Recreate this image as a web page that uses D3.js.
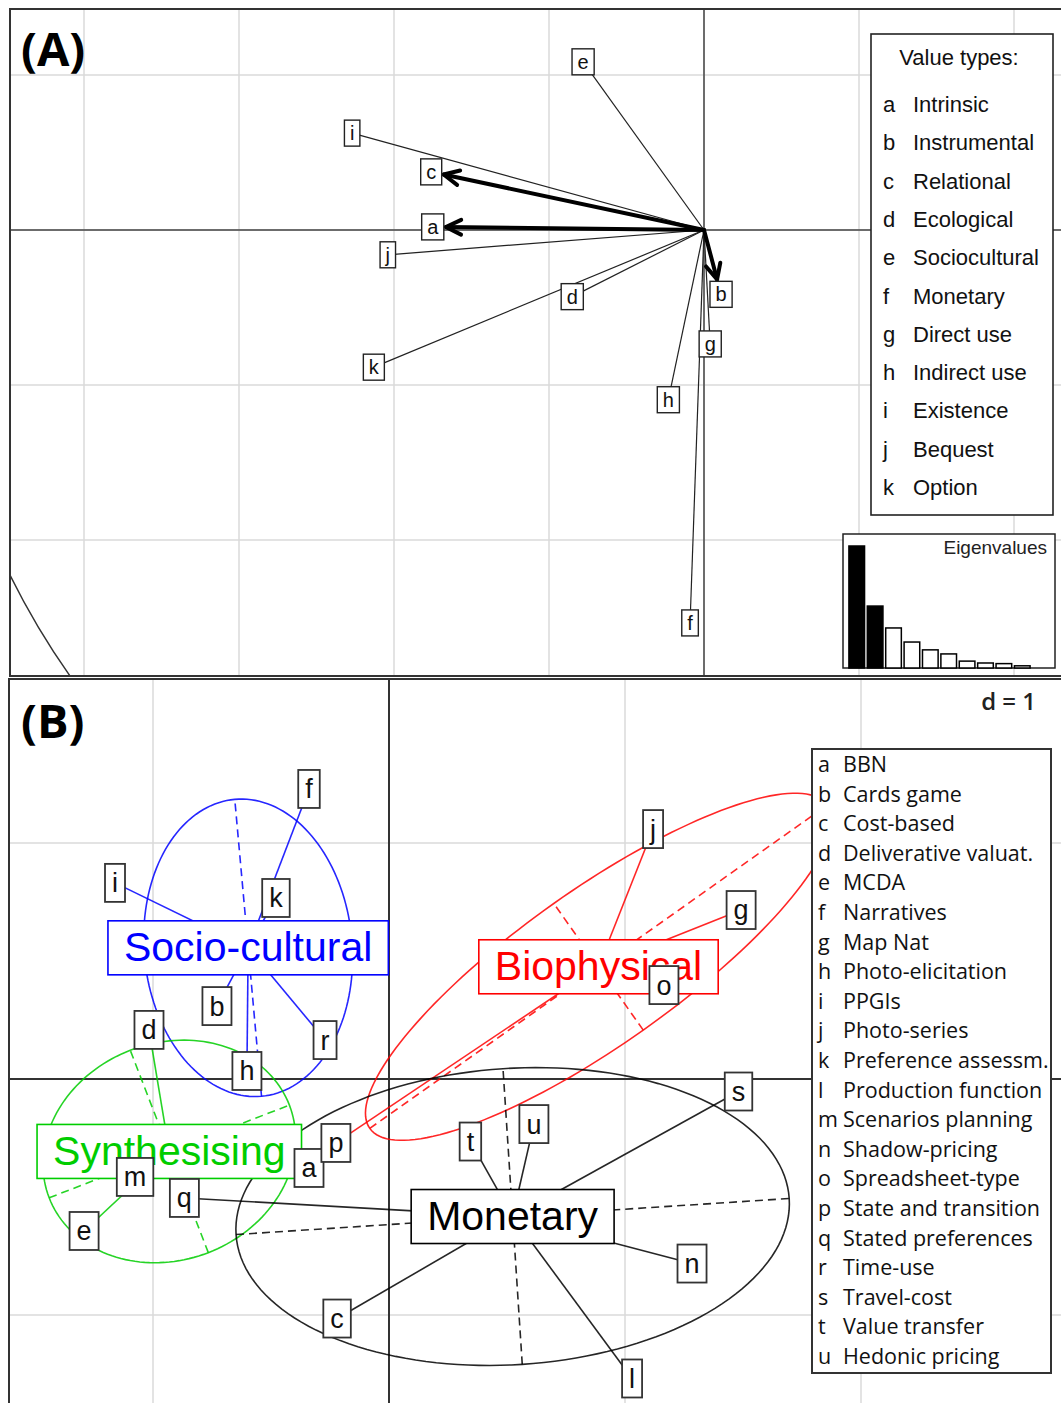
<!DOCTYPE html>
<html><head><meta charset="utf-8">
<script src="https://cdn.jsdelivr.net/npm/d3@7"></script>
<style>body{margin:0;background:#fff}</style>
</head><body>
<svg id="chart" width="1061" height="1403"></svg>
<script>
// ================= DATA =================
// Panel A: value types (correlation-circle coordinates)
const valueLetters = ["a","b","c","d","e","f","g","h","i","j","k"];
const valueNames = ["Intrinsic","Instrumental","Relational","Ecological","Sociocultural","Monetary","Direct use","Indirect use","Existence","Bequest","Option"];
const valueX = [-0.350, 0.022, -0.352, -0.170, -0.156, -0.018, 0.008, -0.046, -0.454, -0.408, -0.426];
const valueY = [0.004, -0.083, 0.075, -0.086, 0.217, -0.507, -0.147, -0.219, 0.125, -0.032, -0.177];
const mainValueTypes = ["a","b","c"];
const eigenvalues = [3.90, 1.98, 1.28, 0.83, 0.58, 0.45, 0.22, 0.16, 0.14, 0.07];
const eigenKept = 2;

// Panel B: valuation methods
const methodLetters = ["a","b","c","d","e","f","g","h","i","j","k","l","m","n","o","p","q","r","s","t","u"];
const methodNames = ["BBN","Cards game","Cost-based","Deliverative valuat.","MCDA","Narratives","Map Nat","Photo-elicitation","PPGIs","Photo-series","Preference assessm.","Production function","Scenarios planning","Shadow-pricing","Spreadsheet-type","State and transition","Stated preferences","Time-use","Travel-cost","Value transfer","Hedonic pricing"];
const methodX = [-0.339, -0.729, -0.220, -1.017, -1.292, -0.339, 1.492, -0.602, -1.161, 1.119, -0.479, 1.030, -1.076, 1.284, 1.165, -0.225, -0.867, -0.271, 1.481, 0.345, 0.614];
const methodY = [-0.377, 0.309, -1.015, 0.208, -0.644, 1.229, 0.716, 0.034, 0.831, 1.059, 0.767, -1.269, -0.415, -0.782, 0.398, -0.271, -0.504, 0.165, -0.053, -0.265, -0.191];
const methodGroup = ["Synthesising","Socio-cultural","Monetary","Synthesising","Synthesising","Socio-cultural","Biophysical","Socio-cultural","Socio-cultural","Biophysical","Socio-cultural","Monetary","Synthesising","Monetary","Biophysical","Biophysical","Monetary","Socio-cultural","Monetary","Monetary","Monetary"];
const groupNames = ["Socio-cultural","Synthesising","Biophysical","Monetary"];
const groupColors = ["#0000ff","#00cd00","#ff0000","#000000"];
const ellipseCoef = 1.5;
const gridStepA = 0.2, gridStepB = 1;

// ================= LAYOUT =================
const W = 1061, H = 1403;
const A = {left:10, top:9, right:1066, bottom:676, ox:704, oy:230, unit:775};
const B = {left:9, top:679, right:1066, bottom:1408, ox:389, oy:1079, unit:236};
const SANS = "'Liberation Sans', Arial, sans-serif";
const LEG = "'Open Sans', 'Noto Sans', sans-serif";

const svg = d3.select("#chart");
svg.append("rect").attr("width", W).attr("height", H).attr("fill", "#fff");
const defs = svg.append("defs");
defs.append("clipPath").attr("id","clipA").append("rect")
  .attr("x",A.left).attr("y",A.top).attr("width",A.right-A.left).attr("height",A.bottom-A.top);
defs.append("clipPath").attr("id","clipB").append("rect")
  .attr("x",B.left).attr("y",B.top).attr("width",B.right-B.left).attr("height",B.bottom-B.top);

function gridValues(scale, lo, hi, step) {
  const out = [];
  const a = Math.min(scale.invert(lo), scale.invert(hi)), b = Math.max(scale.invert(lo), scale.invert(hi));
  for (let v = Math.ceil(a/step)*step; v <= b; v += step) out.push(+v.toFixed(6));
  return out;
}

// ================= PANEL A =================
const xA = d3.scaleLinear().domain([0,1]).range([A.ox, A.ox + A.unit]);
const yA = d3.scaleLinear().domain([0,1]).range([A.oy, A.oy - A.unit]);
const gA = svg.append("g").attr("clip-path","url(#clipA)");

gA.selectAll("line.gx").data(gridValues(xA, A.left, A.right, gridStepA)).join("line")
  .attr("x1",d=>xA(d)).attr("x2",d=>xA(d)).attr("y1",A.top).attr("y2",A.bottom)
  .attr("stroke","#dadada").attr("stroke-width",1.5);
gA.selectAll("line.gy").data(gridValues(yA, A.top, A.bottom, gridStepA)).join("line")
  .attr("y1",d=>yA(d)).attr("y2",d=>yA(d)).attr("x1",A.left).attr("x2",A.right)
  .attr("stroke","#dadada").attr("stroke-width",1.5);
gA.append("line").attr("x1",xA(0)).attr("x2",xA(0)).attr("y1",A.top).attr("y2",A.bottom).attr("stroke","#444").attr("stroke-width",1.5);
gA.append("line").attr("y1",yA(0)).attr("y2",yA(0)).attr("x1",A.left).attr("x2",A.right).attr("stroke","#444").attr("stroke-width",1.5);
gA.append("circle").attr("cx",xA(0)).attr("cy",yA(0)).attr("r",xA(1)-xA(0))
  .attr("fill","none").attr("stroke","#333").attr("stroke-width",1.4);

const valueData = valueLetters.map((l,i)=>({letter:l, name:valueNames[i], x:valueX[i], y:valueY[i]}));
const layLinesA = gA.append("g");
const layLabelsA = gA.append("g");
const fsA = 20;
valueData.forEach(d => {
  const cx = xA(d.x), cy = yA(d.y);
  const g = layLabelsA.append("g");
  const r = g.append("rect");
  const t = g.append("text").attr("x",cx).attr("y",cy + 0.35*fsA).attr("text-anchor","middle")
    .attr("font-family",SANS).attr("font-size",fsA).attr("fill","#111").text(d.letter);
  const w = t.node().getComputedTextLength() + 11, h = 26;
  r.attr("x",cx-w/2).attr("y",cy-h/2).attr("width",w).attr("height",h)
    .attr("fill","#fff").attr("stroke","#222").attr("stroke-width",1.4);
  d.cx = cx; d.cy = cy; d.hw = w/2; d.hh = h/2;
});
valueData.forEach(d => {
  layLinesA.append("line").attr("x1",xA(0)).attr("y1",yA(0)).attr("x2",d.cx).attr("y2",d.cy)
    .attr("stroke","#222").attr("stroke-width",1.2);
});
valueData.filter(d => mainValueTypes.includes(d.letter)).forEach(d => {
  const ox = xA(0), oy = yA(0);
  const vx = ox - d.cx, vy = oy - d.cy, len = Math.hypot(vx, vy);
  const t = Math.min(vx ? d.hw/Math.abs(vx) : Infinity, vy ? d.hh/Math.abs(vy) : Infinity) + 2/len;
  const tx = d.cx + vx*t, ty = d.cy + vy*t;
  layLinesA.append("line").attr("x1",ox).attr("y1",oy).attr("x2",tx).attr("y2",ty)
    .attr("stroke","#000").attr("stroke-width",4).attr("stroke-linecap","round");
  const ang = Math.atan2(vy, vx), L = 17, sp = 0.45;
  const p1 = [tx + L*Math.cos(ang+sp), ty + L*Math.sin(ang+sp)];
  const p2 = [tx + L*Math.cos(ang-sp), ty + L*Math.sin(ang-sp)];
  layLinesA.append("path").attr("d",`M${p1[0]},${p1[1]}L${tx},${ty}L${p2[0]},${p2[1]}`)
    .attr("fill","none").attr("stroke","#000").attr("stroke-width",4)
    .attr("stroke-linecap","round").attr("stroke-linejoin","round");
});

// Legend A
const legA = svg.append("g");
legA.append("rect").attr("x",871).attr("y",34).attr("width",182).attr("height",481)
  .attr("fill","#fff").attr("stroke","#222").attr("stroke-width",1.6);
legA.append("text").attr("x",959).attr("y",65).attr("text-anchor","middle")
  .attr("font-family",SANS).attr("font-size",22).attr("fill","#111").text("Value types:");
valueData.forEach((d,i) => {
  const y = 112 + i*38.3;
  legA.append("text").attr("x",883).attr("y",y).attr("font-family",SANS).attr("font-size",22).attr("fill","#111").text(d.letter);
  legA.append("text").attr("x",913).attr("y",y).attr("font-family",SANS).attr("font-size",22).attr("fill","#111").text(d.name);
});

// Eigenvalues inset
const eig = svg.append("g");
eig.append("rect").attr("x",843).attr("y",534).attr("width",212).attr("height",134)
  .attr("fill","#fff").attr("stroke","#222").attr("stroke-width",1.5);
const xE = d3.scaleBand().domain(d3.range(eigenvalues.length)).range([848, 1031]).paddingInner(0.15).paddingOuter(0.05);
const yE = d3.scaleLinear().domain([0, d3.max(eigenvalues)]).range([668, 546]);
eig.selectAll("rect.bar").data(eigenvalues).join("rect")
  .attr("x",(d,i)=>xE(i)).attr("y",d=>yE(d)).attr("width",xE.bandwidth()).attr("height",d=>yE(0)-yE(d))
  .attr("fill",(d,i)=> i < eigenKept ? "#000" : "#fff").attr("stroke","#000").attr("stroke-width",1.5);
eig.append("text").attr("x",1047).attr("y",554).attr("text-anchor","end")
  .attr("font-family",SANS).attr("font-size",19).attr("fill","#222").text("Eigenvalues");

svg.append("text").attr("x",21).attr("y",66).attr("font-family",LEG).attr("font-weight",700)
  .attr("font-size",47).attr("fill","#000").text("(A)");
svg.append("rect").attr("x",A.left).attr("y",A.top).attr("width",A.right-A.left).attr("height",A.bottom-A.top)
  .attr("fill","none").attr("stroke","#333").attr("stroke-width",2);

// ================= PANEL B =================
const xB = d3.scaleLinear().domain([0,1]).range([B.ox, B.ox + B.unit]);
const yB = d3.scaleLinear().domain([0,1]).range([B.oy, B.oy - B.unit]);
const gB = svg.append("g").attr("clip-path","url(#clipB)");

gB.selectAll("line.gx").data(gridValues(xB, B.left, B.right, gridStepB)).join("line")
  .attr("x1",d=>xB(d)).attr("x2",d=>xB(d)).attr("y1",B.top).attr("y2",B.bottom)
  .attr("stroke","#dadada").attr("stroke-width",1.5);
gB.selectAll("line.gy").data(gridValues(yB, B.top, B.bottom, gridStepB)).join("line")
  .attr("y1",d=>yB(d)).attr("y2",d=>yB(d)).attr("x1",B.left).attr("x2",B.right)
  .attr("stroke","#dadada").attr("stroke-width",1.5);
gB.append("line").attr("x1",xB(0)).attr("x2",xB(0)).attr("y1",B.top).attr("y2",B.bottom).attr("stroke","#333").attr("stroke-width",2);
gB.append("line").attr("y1",yB(0)).attr("y2",yB(0)).attr("x1",B.left).attr("x2",B.right).attr("stroke","#333").attr("stroke-width",2);

const methods = methodLetters.map((l,i)=>({letter:l, name:methodNames[i], x:methodX[i], y:methodY[i], group:methodGroup[i]}));
const groups = groupNames.map((name, gi) => {
  const pts = methods.filter(m => m.group === name);
  const n = pts.length;
  const mx = d3.mean(pts, p=>p.x), my = d3.mean(pts, p=>p.y);
  let sxx=0, syy=0, sxy=0;
  pts.forEach(p => { const dx=p.x-mx, dy=p.y-my; sxx+=dx*dx; syy+=dy*dy; sxy+=dx*dy; });
  sxx/=n; syy/=n; sxy/=n;
  const tr=(sxx+syy)/2, df=Math.sqrt(((sxx-syy)/2)**2 + sxy*sxy);
  const l1 = tr+df, l2 = Math.max(tr-df, 0);
  const th = Math.atan2(l1 - sxx, sxy);
  return {name, color:groupColors[gi], pts, mx, my, a:ellipseCoef*Math.sqrt(l1), b:ellipseCoef*Math.sqrt(l2), th};
});

const layEll = gB.append("g");
const lineGen = d3.line().x(p=>xB(p[0])).y(p=>yB(p[1])).curve(d3.curveLinearClosed);
groups.forEach(G => {
  const c = Math.cos(G.th), s = Math.sin(G.th);
  const ring = d3.range(0, 2*Math.PI, 2*Math.PI/160).map(t => [
    G.mx + G.a*Math.cos(t)*c - G.b*Math.sin(t)*s,
    G.my + G.a*Math.cos(t)*s + G.b*Math.sin(t)*c ]);
  layEll.append("path").attr("d", lineGen(ring)).attr("fill","none").attr("stroke",G.color).attr("stroke-width",1.6).attr("stroke-opacity",0.85);
  [[G.a*c, G.a*s],[-G.b*s, G.b*c]].forEach(v => {
    layEll.append("line").attr("x1",xB(G.mx - v[0])).attr("y1",yB(G.my - v[1]))
      .attr("x2",xB(G.mx + v[0])).attr("y2",yB(G.my + v[1]))
      .attr("stroke",G.color).attr("stroke-width",1.6).attr("stroke-opacity",0.85).attr("stroke-dasharray","8,5");
  });
  G.pts.forEach(p => {
    layEll.append("line").attr("x1",xB(G.mx)).attr("y1",yB(G.my)).attr("x2",xB(p.x)).attr("y2",yB(p.y))
      .attr("stroke",G.color).attr("stroke-width",1.6).attr("stroke-opacity",0.85);
  });
});

// class labels
const fsC = 41;
groups.forEach(G => {
  const cx = xB(G.mx), cy = yB(G.my);
  const g = gB.append("g");
  const r = g.append("rect");
  const t = g.append("text").attr("x",cx).attr("y",cy + 0.32*fsC).attr("text-anchor","middle")
    .attr("font-family",SANS).attr("font-size",fsC).attr("fill",G.color).text(G.name);
  const w = t.node().getComputedTextLength() + 32, h = 54;
  r.attr("x",cx-w/2).attr("y",cy-h/2).attr("width",w).attr("height",h)
    .attr("fill","#fff").attr("stroke",G.color).attr("stroke-width",1.6);
});

// point labels
const fsP = 27;
methods.forEach(d => {
  const cx = xB(d.x), cy = yB(d.y);
  const g = gB.append("g");
  const r = g.append("rect");
  const t = g.append("text").attr("x",cx).attr("y",cy + 0.35*fsP).attr("text-anchor","middle")
    .attr("font-family",SANS).attr("font-size",fsP).attr("fill","#111").text(d.letter);
  const w = t.node().getComputedTextLength() + 14, h = 38;
  r.attr("x",cx-w/2).attr("y",cy-h/2).attr("width",w).attr("height",h)
    .attr("fill","#fff").attr("stroke","#333").attr("stroke-width",1.8);
});

// Legend B
const legB = svg.append("g");
legB.append("rect").attr("x",812).attr("y",749).attr("width",239).attr("height",624)
  .attr("fill","#fff").attr("stroke","#333").attr("stroke-width",2);
methods.forEach((d,i) => {
  const y = 772 + i*29.6;
  legB.append("text").attr("x",818).attr("y",y).attr("font-family",LEG).attr("font-size",21.5).attr("fill","#111").text(d.letter);
  legB.append("text").attr("x",843).attr("y",y).attr("font-family",LEG).attr("font-size",21.5).attr("fill","#111").text(d.name);
});
svg.append("text").attr("x",1036).attr("y",710).attr("text-anchor","end").attr("font-family",LEG)
  .attr("font-weight",600).attr("font-size",24).attr("fill","#222").text("d = " + gridStepB);

svg.append("text").attr("x",21).attr("y",738).attr("font-family",LEG).attr("font-weight",700)
  .attr("font-size",47).attr("fill","#000").text("(B)");
svg.append("rect").attr("x",B.left).attr("y",B.top).attr("width",B.right-B.left).attr("height",B.bottom-B.top)
  .attr("fill","none").attr("stroke","#333").attr("stroke-width",2);
</script>
</body></html>
